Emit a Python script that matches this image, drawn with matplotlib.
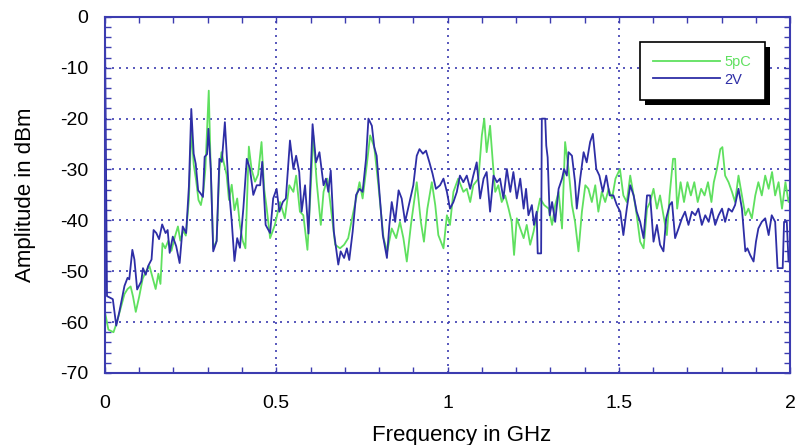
import matplotlib
matplotlib.use('Agg')
import matplotlib.pyplot as plt
from matplotlib.ticker import MultipleLocator
from matplotlib.patches import Rectangle
from matplotlib.transforms import IdentityTransform

plt.rcParams['font.family'] = ['Liberation Sans', 'DejaVu Sans']
plt.rcParams['axes.unicode_minus'] = False

# %% Spectrum values (frequency in GHz, amplitude in dBm)
# 2V trace (dark blue)
freq_2v = [0.000, 0.006, 0.023, 0.033, 0.042, 0.057, 0.066, 0.071, 0.080, 0.086,
           0.094, 0.106, 0.111, 0.119, 0.126, 0.136, 0.142, 0.150, 0.158, 0.167,
           0.177, 0.183, 0.189, 0.198, 0.208, 0.218, 0.227, 0.237, 0.245, 0.252,
           0.259, 0.265, 0.272, 0.279, 0.286, 0.291, 0.298, 0.302, 0.309, 0.316,
           0.326, 0.334, 0.341, 0.350, 0.360, 0.370, 0.378, 0.386, 0.394, 0.404,
           0.414, 0.423, 0.433, 0.443, 0.453, 0.459, 0.469, 0.482, 0.491,
           0.501, 0.509, 0.519, 0.528, 0.540, 0.550, 0.558, 0.567, 0.574, 0.584,
           0.594, 0.606, 0.616, 0.626, 0.638, 0.645, 0.652, 0.659, 0.668, 0.681,
           0.688, 0.698, 0.706, 0.713, 0.723, 0.733, 0.743, 0.752, 0.762, 0.769,
           0.779, 0.786, 0.793, 0.801, 0.811, 0.823, 0.830, 0.837, 0.847, 0.857,
           0.866, 0.876, 0.889, 0.900, 0.910, 0.918, 0.928, 0.937, 0.947, 0.956,
           0.966, 0.978, 0.988, 0.998, 1.007, 1.017, 1.027, 1.036, 1.046, 1.056,
           1.066, 1.075, 1.085, 1.095, 1.105, 1.114, 1.124, 1.134, 1.144, 1.153,
           1.163, 1.173, 1.183, 1.192, 1.202, 1.212, 1.222, 1.229, 1.236, 1.246,
           1.252, 1.260, 1.263, 1.273, 1.275, 1.285, 1.288, 1.292, 1.298, 1.305,
           1.314, 1.324, 1.334, 1.340, 1.348, 1.353, 1.363, 1.372, 1.377, 1.387,
           1.397, 1.406, 1.416, 1.424, 1.434, 1.443, 1.453, 1.463, 1.473, 1.484,
           1.494, 1.504, 1.513, 1.523, 1.533, 1.543, 1.552, 1.562, 1.572, 1.582,
           1.591, 1.601, 1.611, 1.620, 1.630, 1.638, 1.648, 1.655, 1.664, 1.674,
           1.684, 1.693, 1.703, 1.713, 1.723, 1.732, 1.742, 1.752, 1.762, 1.771,
           1.781, 1.791, 1.801, 1.810, 1.820, 1.830, 1.839, 1.849, 1.859, 1.869,
           1.875, 1.883, 1.893, 1.900, 1.907, 1.917, 1.927, 1.937, 1.946, 1.956,
           1.963, 1.978, 1.982, 1.990, 1.995, 2.000]
amp_2v = [-1.0, -54.9, -55.5, -60.7, -58.0, -52.9, -51.3, -51.6, -45.8, -47.7,
          -53.6, -52.0, -49.4, -50.7, -49.0, -47.7, -41.9, -42.5, -43.7, -40.8,
          -42.5, -41.9, -46.4, -43.2, -45.1, -48.4, -41.2, -42.5, -33.4, -18.1,
          -26.9, -28.9, -34.1, -34.7, -35.4, -27.5, -27.0, -22.0, -30.0, -46.1,
          -44.1, -27.9, -28.5, -20.7, -32.4, -40.2, -48.0, -43.5, -45.4, -37.6,
          -27.9, -29.8, -35.0, -33.1, -33.1, -28.5, -40.9, -42.5, -35.7,
          -33.8, -38.3, -36.4, -35.7, -24.3, -29.9, -27.3, -30.5, -38.3, -33.1,
          -42.6, -21.1, -28.6, -26.6, -33.1, -31.8, -34.4, -30.2, -42.2, -48.7,
          -46.1, -47.4, -45.5, -47.8, -42.2, -35.0, -33.8, -34.4, -27.9, -20.0,
          -21.4, -25.6, -27.3, -34.4, -42.9, -47.4, -41.0, -36.4, -40.3, -34.1,
          -35.7, -40.3, -36.4, -33.1, -27.3, -26.0, -26.9, -26.3, -28.6, -30.8,
          -33.8, -33.1, -31.8, -34.4, -37.7, -36.4, -34.4, -31.2, -32.5, -31.2,
          -33.8, -31.2, -28.6, -35.7, -31.8, -30.5, -38.3, -31.2, -32.5, -31.8,
          -35.7, -29.9, -34.4, -30.5, -35.7, -31.8, -37.7, -33.8, -39.0, -37.0,
          -40.9, -38.3, -46.5, -46.5, -20.0, -20.0, -25.3, -27.6, -39.0, -36.4,
          -40.3, -33.8, -31.8, -29.9, -31.2, -26.6, -27.3, -32.5, -37.7, -31.8,
          -26.6, -28.6, -24.6, -23.0, -29.9, -31.2, -34.4, -31.2, -35.1, -35.1,
          -37.0, -38.3, -42.9, -37.7, -33.1, -35.1, -38.3, -40.3, -43.5, -35.1,
          -35.1, -44.2, -40.9, -44.8, -46.1, -39.6, -37.0, -36.4, -43.5, -41.6,
          -39.6, -38.3, -40.9, -38.3, -39.0, -37.7, -40.9, -39.0, -40.3, -37.7,
          -40.9, -39.0, -37.7, -40.3, -37.7, -38.3, -37.0, -33.8, -37.7, -46.1,
          -45.5, -46.8, -48.1, -44.2, -41.6, -40.3, -39.6, -42.9, -39.0, -40.3,
          -49.4, -49.4, -40.3, -40.3, -48.1, -48.1]

# 5pC trace (light green)
freq_5pc = [0.000, 0.010, 0.025, 0.035, 0.045, 0.057, 0.066, 0.075, 0.082, 0.090,
            0.100, 0.110, 0.120, 0.130, 0.140, 0.148, 0.156, 0.162, 0.168, 0.176,
            0.185, 0.194, 0.203, 0.213, 0.220, 0.228, 0.236, 0.245, 0.252, 0.259,
            0.266, 0.273, 0.280, 0.287, 0.293, 0.298, 0.303, 0.308, 0.316, 0.326,
            0.334, 0.340, 0.348, 0.355, 0.362, 0.370, 0.378, 0.386, 0.394, 0.402,
            0.410, 0.420, 0.428, 0.438, 0.447, 0.457, 0.465, 0.472, 0.482, 0.496,
            0.511, 0.525, 0.538, 0.550, 0.558, 0.569, 0.579, 0.591, 0.599, 0.608,
            0.618, 0.630, 0.638, 0.649, 0.662, 0.672, 0.686, 0.698, 0.710, 0.723,
            0.733, 0.743, 0.752, 0.764, 0.774, 0.786, 0.798, 0.813, 0.824, 0.837,
            0.850, 0.861, 0.871, 0.881, 0.893, 0.910, 0.922, 0.931, 0.941, 0.954,
            0.964, 0.973, 0.988, 0.998, 1.007, 1.017, 1.031, 1.046, 1.056, 1.066,
            1.075, 1.090, 1.100, 1.107, 1.114, 1.124, 1.132, 1.139, 1.148, 1.158,
            1.168, 1.178, 1.187, 1.194, 1.202, 1.212, 1.222, 1.231, 1.241, 1.251,
            1.260, 1.270, 1.282, 1.295, 1.305, 1.314, 1.324, 1.334, 1.343, 1.353,
            1.363, 1.372, 1.382, 1.392, 1.402, 1.411, 1.421, 1.431, 1.440, 1.450,
            1.460, 1.470, 1.480, 1.490, 1.503, 1.513, 1.523, 1.533, 1.543, 1.552,
            1.562, 1.572, 1.582, 1.591, 1.601, 1.611, 1.620, 1.630, 1.640, 1.648,
            1.658, 1.664, 1.670, 1.680, 1.690, 1.700, 1.710, 1.720, 1.730, 1.740,
            1.750, 1.760, 1.770, 1.777, 1.786, 1.796, 1.802, 1.810, 1.820, 1.830,
            1.839, 1.849, 1.859, 1.869, 1.878, 1.888, 1.898, 1.907, 1.917, 1.927,
            1.937, 1.947, 1.956, 1.966, 1.976, 1.986, 1.995, 2.000]
amp_5pc = [-58.0, -61.5, -62.0, -60.0, -57.5, -54.5, -53.5, -53.0, -55.0, -58.0,
           -55.0, -51.5, -50.0, -49.0, -51.5, -53.5, -50.5, -52.5, -44.5, -45.5,
           -44.0, -46.0, -43.5, -41.2, -44.0, -42.0, -43.0, -36.0, -22.0, -29.0,
           -32.1, -36.0, -37.0, -34.5, -30.0, -22.0, -14.5, -28.0, -45.5, -44.0,
           -30.0, -26.6, -29.0, -31.0, -36.0, -33.0, -38.0, -35.7, -41.0, -44.0,
           -45.5, -25.5, -30.0, -32.4, -31.0, -24.6, -34.0, -37.6, -43.5, -40.9,
           -36.4, -39.6, -33.1, -34.4, -31.2, -38.3, -39.0, -45.8, -35.7, -23.3,
           -32.5, -40.9, -34.4, -31.8, -39.0, -44.8, -45.5, -44.8, -43.5, -39.0,
           -35.7, -32.5, -35.7, -29.2, -23.3, -25.6, -33.1, -43.5, -46.1, -41.6,
           -43.5, -40.3, -43.5, -48.1, -40.9, -32.5, -40.3, -44.2, -37.7, -32.5,
           -37.0, -42.9, -45.5, -39.0, -40.9, -34.4, -31.8, -34.4, -33.8, -36.4,
           -33.1, -31.8, -23.3, -20.0, -26.6, -21.4, -28.6, -34.4, -33.1, -36.4,
           -35.1, -37.7, -40.3, -46.8, -39.6, -41.6, -43.5, -40.9, -44.8, -42.2,
           -39.0, -35.7, -37.0, -37.7, -40.9, -37.0, -34.4, -41.6, -24.6, -29.9,
           -37.0, -40.3, -46.1, -38.3, -33.1, -33.8, -36.4, -33.1, -38.3, -34.4,
           -36.4, -33.8, -35.7, -31.8, -29.9, -35.1, -36.4, -31.2, -35.1, -39.0,
           -44.2, -45.5, -37.7, -36.4, -33.8, -37.7, -35.1, -39.0, -42.9, -35.1,
           -27.9, -27.9, -37.7, -32.5, -36.4, -32.5, -35.1, -32.5, -36.4, -33.8,
           -35.1, -32.5, -36.4, -32.5, -29.9, -26.0, -25.6, -31.2, -32.5, -34.4,
           -36.4, -31.2, -35.1, -39.0, -37.7, -39.6, -35.1, -32.5, -35.1, -31.2,
           -33.8, -30.5, -35.1, -32.5, -37.7, -32.5, -36.4, -35.1]

x_ticks = [0, 0.5, 1, 1.5, 2]
x_tick_labels = ['0', '0.5', '1', '1.5', '2']
y_ticks = [0, -10, -20, -30, -40, -50, -60, -70]
y_tick_labels = ['0', '-10', '-20', '-30', '-40', '-50', '-60', '-70']

green = '#5fe05f'
blue = '#2e2ea6'
frame = '#3c3cb0'

# %% Plotting
fig = plt.figure(figsize=(7.95, 4.45), dpi=100)
ax = fig.add_axes([0.132, 0.162, 0.862, 0.800])

ax.plot(freq_5pc, amp_5pc, color=green, lw=1.3, label='5pC')
ax.plot(freq_2v, amp_2v, color=blue, lw=1.3, label='2V')

ax.set_xlim(0, 2)
ax.set_ylim(-70, 0)
ax.set_xticks(x_ticks)
ax.set_xticklabels(x_tick_labels)
ax.set_yticks(y_ticks)
ax.set_yticklabels(y_tick_labels)
ax.xaxis.set_minor_locator(MultipleLocator(0.1))
ax.yaxis.set_minor_locator(MultipleLocator(2))
ax.tick_params(which='both', direction='in', top=True, right=True,
               length=4, width=1, color=frame)
ax.tick_params(axis='x', pad=16, labelsize=14)
ax.tick_params(axis='y', pad=12, labelsize=14)

ax.grid(True, which='major', color=frame, linestyle=(0, (1.2, 3)), lw=1.2)
for s in ax.spines.values():
    s.set_color(frame)
    s.set_linewidth(1.5)

ax.set_xlabel('Frequency in GHz', fontsize=16)
ax.set_ylabel('Amplitude in dBm', fontsize=16)
ax.xaxis.set_label_coords(0.52, -0.145)
ax.yaxis.set_label_coords(-0.1, 0.5)

# Legend box with a heavy black drop shadow
leg = ax.legend(loc='upper left', bbox_to_anchor=(0.781, 0.93), borderaxespad=0,
                fontsize=10.5, handlelength=4.6, handletextpad=0.3, borderpad=0.9,
                labelspacing=0.25, fancybox=False, framealpha=1, edgecolor='black')
leg.get_frame().set_linewidth(1.2)
for txt, c in zip(leg.get_texts(), [green, blue]):
    txt.set_color(c)

fig.canvas.draw()
bb = leg.get_window_extent()
shadow = Rectangle((bb.x0 + 5, bb.y0 - 5), bb.width, bb.height, transform=IdentityTransform(),
                   facecolor='black', edgecolor='none', zorder=leg.get_zorder() - 0.1)
ax.add_artist(shadow)

plt.savefig('out.png', dpi=100)
